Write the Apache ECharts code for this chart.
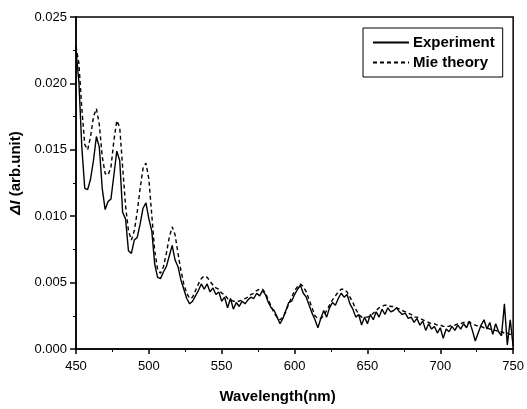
<!DOCTYPE html>
<html>
<head>
<meta charset="utf-8">
<script src="https://cdn.jsdelivr.net/npm/echarts@6/dist/echarts.min.js"></script>
<style>html,body{margin:0;padding:0;background:#fff}#c{width:527px;height:409px}</style>
</head>
<body>
<div id="c"></div>
<script>
const wavelength = [450,452,454,456,458,460,462,464,466,468,470,472,474,476,478,480,482,484,486,488,490,492,494,496,498,500,502,504,506,508,510,512,514,516,518,520,522,524,526,528,530,532,534,536,538,540,542,544,546,548,550,552,554,556,558,560,562,564,566,568,570,572,574,576,578,580,582,584,586,588,590,592,594,596,598,600,602,604,606,608,610,612,614,616,618,620,622,624,626,628,630,632,634,636,638,640,642,644,646,648,650,652,654,656,658,660,662,664,666,668,670,672,674,676,678,680,682,684,686,688,690,692,694,696,698,700,702,704,706,708,710,712,714,716,718,720,722,724,726,728,730,732,734,736,738,740,742,744,746,748,750];
const experiment = [0.0225,0.0201,0.0152,0.0121,0.0120,0.0128,0.0142,0.0160,0.0152,0.0121,0.0105,0.0111,0.0113,0.0131,0.0149,0.0142,0.0103,0.0098,0.0074,0.0072,0.0082,0.0084,0.0094,0.0106,0.0110,0.0098,0.0089,0.0064,0.0054,0.0053,0.0058,0.0062,0.0070,0.0078,0.0067,0.0062,0.0052,0.0045,0.0038,0.0034,0.0036,0.0040,0.0044,0.0049,0.0045,0.0049,0.0043,0.0046,0.0041,0.0043,0.0036,0.0039,0.0031,0.0038,0.0030,0.0035,0.0032,0.0036,0.0034,0.0037,0.0039,0.0038,0.0042,0.0040,0.0044,0.0041,0.0035,0.0031,0.0029,0.0024,0.0019,0.0023,0.0029,0.0035,0.0036,0.0041,0.0045,0.0048,0.0042,0.0039,0.0033,0.0027,0.0022,0.0016,0.0023,0.0029,0.0024,0.0031,0.0035,0.0033,0.0038,0.0042,0.0039,0.0041,0.0034,0.0030,0.0024,0.0026,0.0018,0.0024,0.0019,0.0026,0.0022,0.0028,0.0024,0.0030,0.0026,0.0031,0.0028,0.0029,0.0031,0.0028,0.0026,0.0027,0.0023,0.0024,0.0020,0.0023,0.0018,0.0021,0.0014,0.0019,0.0015,0.0017,0.0012,0.0016,0.0008,0.0015,0.0013,0.0017,0.0014,0.0018,0.0015,0.0019,0.0016,0.0021,0.0014,0.0006,0.0012,0.0018,0.0022,0.0015,0.0020,0.0011,0.0019,0.0013,0.0010,0.0034,0.0003,0.0022,0.0002];
const mieTheory = [0.0228,0.0215,0.0181,0.0154,0.0150,0.0160,0.0175,0.0181,0.0169,0.0145,0.0132,0.0131,0.0137,0.0157,0.0172,0.0167,0.0137,0.0108,0.0089,0.0082,0.0089,0.0103,0.0121,0.0136,0.0140,0.0128,0.0101,0.0074,0.0060,0.0057,0.0062,0.0072,0.0084,0.0092,0.0086,0.0072,0.0059,0.0049,0.0042,0.0038,0.0039,0.0044,0.0049,0.0053,0.0055,0.0054,0.0051,0.0048,0.0046,0.0045,0.0042,0.0041,0.0038,0.0037,0.0036,0.0036,0.0036,0.0037,0.0038,0.0039,0.0041,0.0042,0.0044,0.0045,0.0045,0.0042,0.0037,0.0032,0.0027,0.0024,0.0022,0.0024,0.0028,0.0034,0.0039,0.0044,0.0047,0.0049,0.0047,0.0043,0.0037,0.0031,0.0025,0.0023,0.0023,0.0025,0.0029,0.0033,0.0037,0.0040,0.0043,0.0045,0.0045,0.0043,0.0039,0.0035,0.0030,0.0026,0.0024,0.0024,0.0024,0.0025,0.0027,0.0029,0.0031,0.0032,0.0033,0.0033,0.0032,0.0032,0.0031,0.0030,0.0029,0.0028,0.0027,0.0026,0.0024,0.0024,0.0023,0.0022,0.0021,0.0020,0.0019,0.0019,0.0018,0.0018,0.0017,0.0017,0.0017,0.0018,0.0018,0.0019,0.0019,0.0020,0.0020,0.0020,0.0019,0.0018,0.0017,0.0017,0.0016,0.0016,0.0015,0.0014,0.0014,0.0013,0.0013,0.0012,0.0012,0.0011,0.0011];
const xTicks = [450,500,550,600,650,700,750];
const yTicks = ['0.000','0.005','0.010','0.015','0.020','0.025'];

const FONT = '"Liberation Sans", Arial, sans-serif';
const chart = echarts.init(document.getElementById('c'), null, {renderer:'canvas'});
const pair = arr => wavelength.map((w,i)=>[w, arr[i]]);
chart.setOption({
  animation:false,
  backgroundColor:'#fff',
  grid:{left:76, right:10, top:17, bottom:59, show:true, borderColor:'#000', borderWidth:1.5, backgroundColor:'transparent'},
  legend:{
    left:363, top:28, orient:'vertical', itemWidth:36, itemHeight:14, itemGap:5,
    padding:[7,8,7,9], borderColor:'#000', borderWidth:1, borderRadius:0,
    itemStyle:{opacity:0},
    textStyle:{fontFamily:FONT, fontSize:15, fontWeight:'bold', color:'#000', padding:[0,0,0,-1]},
    data:['Experiment','Mie theory']
  },
  xAxis:{
    type:'value', min:xTicks[0], max:xTicks[xTicks.length-1], interval:50,
    name:'Wavelength(nm)', nameLocation:'middle', nameGap:40,
    nameTextStyle:{fontFamily:FONT, fontSize:15, fontWeight:'bold', color:'#000', padding:[0,34,0,0]},
    axisLine:{lineStyle:{color:'#000', width:1.5}},
    axisTick:{length:5, lineStyle:{color:'#000', width:1.5}},
    minorTick:{show:true, splitNumber:2, length:3, lineStyle:{color:'#000', width:1}},
    splitLine:{show:false},
    axisLabel:{fontFamily:FONT, fontSize:13, color:'#000', margin:11, formatter:v=>String(v)}
  },
  yAxis:{
    type:'value', min:0, max:0.025, interval:0.005,
    name:'{i|ΔI} (arb.unit)', nameLocation:'middle', nameGap:30,
    nameTextStyle:{fontFamily:FONT, fontSize:15, fontWeight:'bold', color:'#000', padding:[0,0,0,20],
      rich:{i:{fontFamily:FONT, fontSize:15, fontWeight:'bold', fontStyle:'italic', color:'#000'}}},
    axisLine:{lineStyle:{color:'#000', width:1.5}},
    axisTick:{length:6, lineStyle:{color:'#000', width:1.5}},
    minorTick:{show:true, splitNumber:2, length:3, lineStyle:{color:'#000', width:1}},
    splitLine:{show:false},
    axisLabel:{fontFamily:FONT, fontSize:13, color:'#000', margin:9, formatter:(v)=>yTicks[Math.round(v/0.005)]}
  },
  series:[
    {name:'Experiment', type:'line', data:pair(experiment), showSymbol:false, symbol:'none',
     lineStyle:{color:'#000', width:1.4}, itemStyle:{color:'#000'}},
    {name:'Mie theory', type:'line', data:pair(mieTheory), showSymbol:false, symbol:'none',
     lineStyle:{color:'#000', width:1.4, type:[4,3]}, itemStyle:{color:'#000'}}
  ]
});
</script>
</body>
</html>
